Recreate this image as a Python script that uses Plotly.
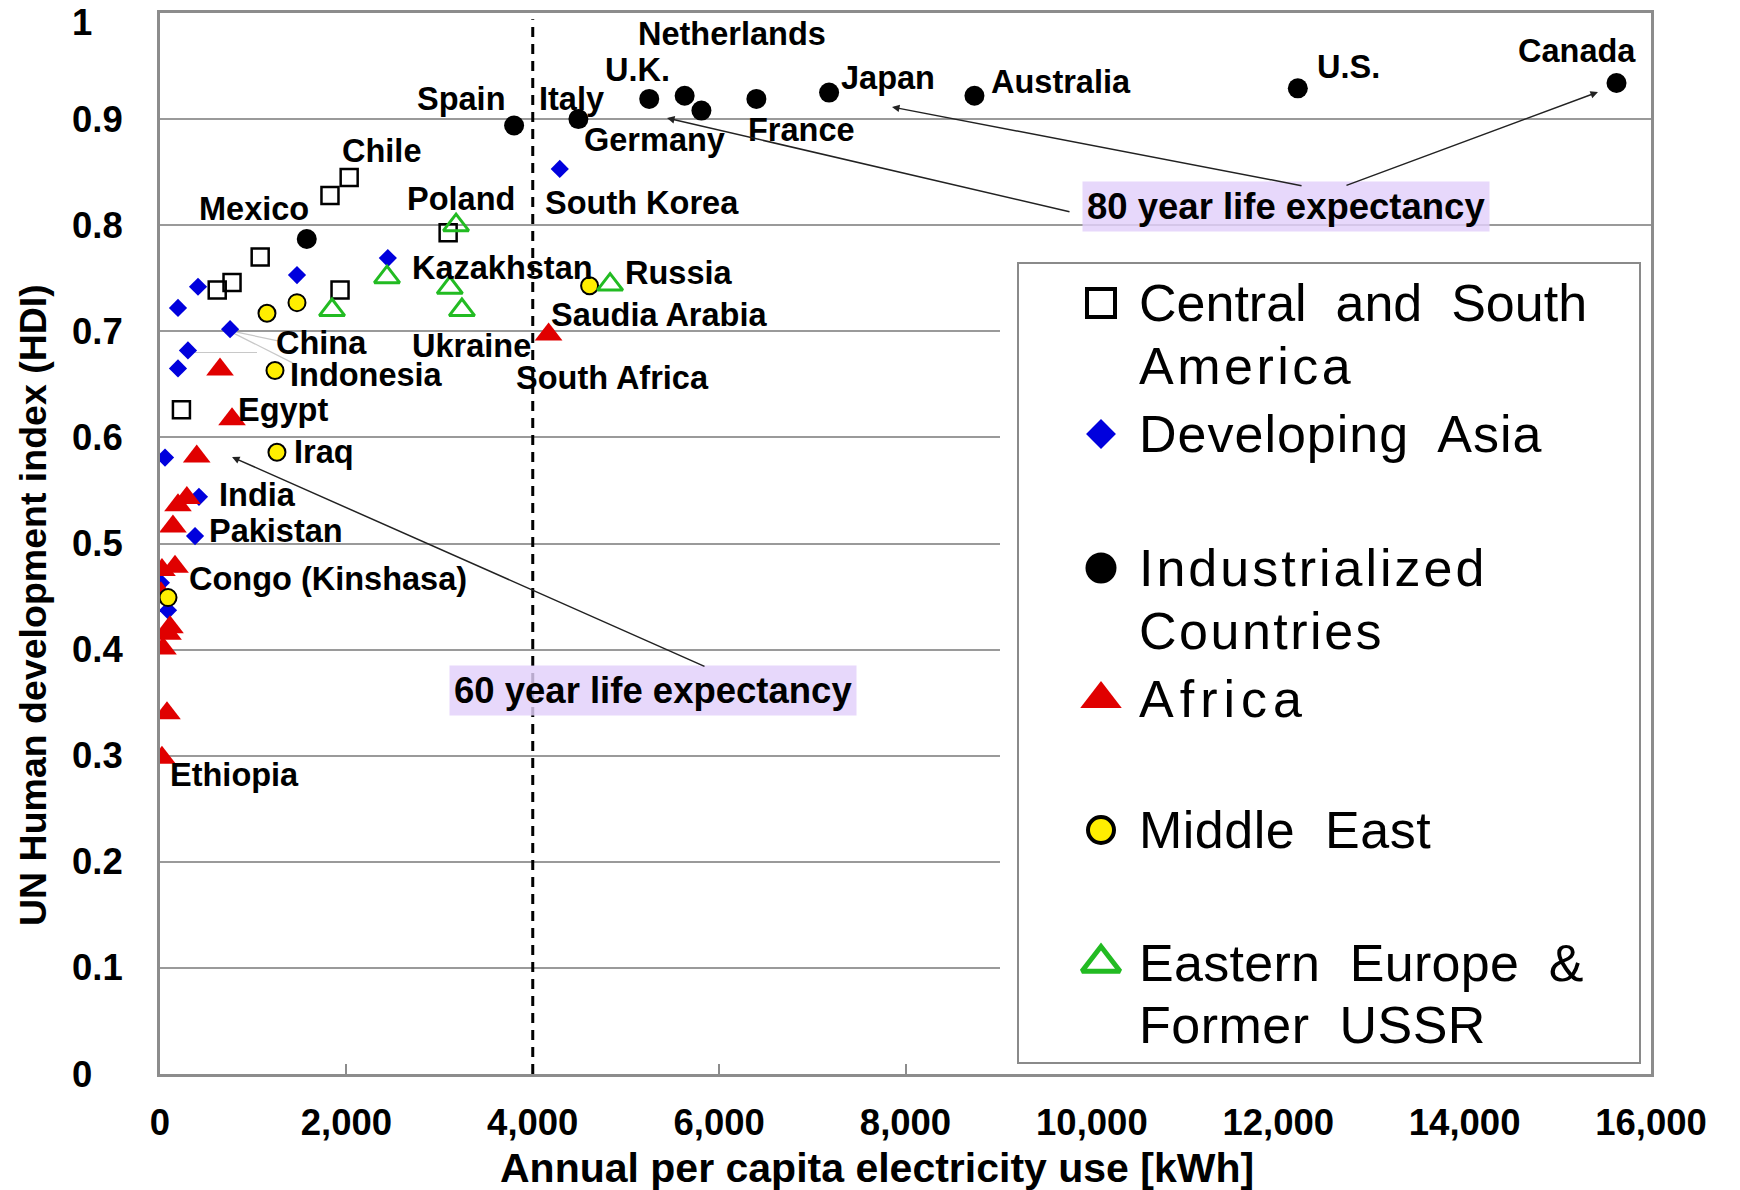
import plotly.graph_objects as go

# ---------------- data (kWh per capita, HDI) ----------------
ind_names = ["Spain", "Italy", "Mexico", "U.K.", "Netherlands", "Germany", "France",
             "Japan", "Australia", "U.S.", "Canada"]
ind_x = [3800, 4490, 1575, 5250, 5630, 5810, 6400, 7180, 8740, 12210, 15630]
ind_y = [0.894, 0.900, 0.787, 0.919, 0.922, 0.908, 0.919, 0.925, 0.922, 0.929, 0.934]

csa_x = [2030, 1824, 1075, 773, 614, 1932, 3092, 230]
csa_y = [0.845, 0.828, 0.770, 0.746, 0.739, 0.739, 0.793, 0.626]

asia_x = [4290, 2445, 1470, 408, 193, 752, 300, 193, 54, 418, 376, 86, 10]
asia_y = [0.853, 0.769, 0.753, 0.742, 0.722, 0.702, 0.682, 0.665, 0.581, 0.544, 0.507, 0.437, 0.463]

mide_x = [1148, 1470, 1234, 1255, 4610, 86]
mide_y = [0.717, 0.727, 0.663, 0.586, 0.743, 0.449]

afr_x = [4170, 773, 644, 394, 288, 193, 139, 21, 161, 10, 107, 86, 32, 75, 21]
afr_y = [0.697, 0.617, 0.664, 0.582, 0.543, 0.536, 0.516, 0.475, 0.478, 0.453, 0.421,
         0.415, 0.401, 0.340, 0.298]

eeu_x = [3177, 2436, 1846, 3110, 3240, 4830]
eeu_y = [0.800, 0.751, 0.720, 0.741, 0.720, 0.744]

# country labels: text, x, y
label_text = ["Netherlands", "U.K.", "Spain", "Italy", "Japan", "Australia", "U.S.", "Canada",
              "Germany", "France", "Chile", "Mexico", "Poland", "South Korea", "Kazakhstan",
              "Russia", "Saudia Arabia", "China", "Ukraine", "Indonesia", "South Africa",
              "Egypt", "Iraq", "India", "Pakistan", "Congo (Kinshasa)", "Ethiopia"]
label_x = [6143, 5119, 3238, 4417, 7810, 9667, 12750, 15202,
           5310, 6881, 2381, 1012, 3226, 5167, 3679,
           5571, 5357, 1738, 3345, 2214, 4857,
           1321, 1762, 1048, 1250, 1798, 798]
label_y = [0.980, 0.946, 0.919, 0.919, 0.939, 0.935, 0.949, 0.964,
           0.880, 0.890, 0.870, 0.815, 0.825, 0.821, 0.760,
           0.755, 0.715, 0.689, 0.686, 0.659, 0.656,
           0.626, 0.586, 0.546, 0.512, 0.467, 0.282]

x_ticks = [0, 2000, 4000, 6000, 8000, 10000, 12000, 14000, 16000]
y_ticks = [0, 0.1, 0.2, 0.3, 0.4, 0.5, 0.6, 0.7, 0.8, 0.9, 1]
y_tick_text = ["0", "0.1", "0.2", "0.3", "0.4", "0.5", "0.6", "0.7", "0.8", "0.9", "1"]
threshold_kwh = 4000

legend_names = [["Central and South", "America"], ["Developing Asia"],
                ["Industrialized", "Countries"], ["Africa"], ["Middle East"],
                ["Eastern Europe &", "Former USSR"]]

FONT = "Liberation Sans, Arial, Helvetica, sans-serif"

fig = go.Figure()

def add(x, y, symbol, size, color, lcolor, lwidth):
    fig.add_trace(go.Scatter(
        x=x, y=y, mode="markers", showlegend=False, hoverinfo="skip",
        marker=dict(symbol=symbol, size=size, color=color,
                    line=dict(color=lcolor, width=lwidth)),
        xaxis="x", yaxis="y"))

add(asia_x, asia_y, "diamond", 14, "#0000dd", "#0000dd", 0)
add(csa_x, csa_y, "square-open", 17, "black", "black", 2.5)
add(afr_x, afr_y, "triangle-up", 24, "#e00000", "#e00000", 0)
add(mide_x, mide_y, "circle", 17, "#ffee00", "black", 2)
add(eeu_x, eeu_y, "triangle-up-open", 22, "#22bb22", "#22bb22", 3)
add(ind_x, ind_y, "circle", 20, "black", "black", 0)

annotations = []
for t, lx, ly in zip(label_text, label_x, label_y):
    annotations.append(dict(
        x=lx, y=ly, xref="x", yref="y", text=t, showarrow=False,
        xanchor="center", yanchor="middle",
        font=dict(family=FONT, size=32.5, color="black", weight="bold")))

# y tick labels (left-aligned, as in the original)
for v, t in zip(y_ticks, y_tick_text):
    annotations.append(dict(
        x=-0.0604, y=v, xref="paper", yref="y", text=t, showarrow=False,
        xanchor="left", yanchor="middle", yshift=(-9 if v == 1 else 0),
        font=dict(family=FONT, size=36.5, color="black", weight="bold")))

# life-expectancy boxes
box_bg = "rgba(226,208,250,0.82)"
annotations.append(dict(x=12083, y=0.818, xref="x", yref="y", text="80 year life expectancy",
                        showarrow=False, bgcolor=box_bg, borderpad=4,
                        font=dict(family=FONT, size=36.5, color="black", weight="bold")))
annotations.append(dict(x=5290, y=0.361, xref="x", yref="y", text="60 year life expectancy",
                        showarrow=False, bgcolor=box_bg, borderpad=4,
                        font=dict(family=FONT, size=36.5, color="black", weight="bold")))

# arrows (head x,y ; tail x,y)
arrows = [(5441, 0.901, 9776, 0.8124),
          (7855, 0.9114, 12266, 0.837),
          (15431, 0.9255, 12716, 0.837),
          (773, 0.5815, 5859, 0.3836)]
for hx, hy, tx, ty in arrows:
    annotations.append(dict(x=hx, y=hy, ax=tx, ay=ty, xref="x", yref="y",
                            axref="x", ayref="y", text="", showarrow=True,
                            arrowhead=2, arrowsize=1, arrowwidth=1.5,
                            arrowcolor="#222222", standoff=0, startstandoff=0))

# axis titles
annotations.append(dict(x=0.481, y=-0.0886, xref="paper", yref="paper",
                        text="Annual per capita electricity use [kWh]", showarrow=False,
                        xanchor="center", yanchor="middle",
                        font=dict(family=FONT, size=41, color="black", weight="bold")))
annotations.append(dict(x=-0.0852, y=0.442, xref="paper", yref="paper",
                        text="UN Human development index (HDI)", showarrow=False,
                        textangle=-90, xanchor="center", yanchor="middle",
                        font=dict(family=FONT, size=37.5, color="black", weight="bold")))

shapes = []
# dashed vertical threshold
shapes.append(dict(type="line", xref="x", yref="y", x0=threshold_kwh, x1=threshold_kwh,
                   y0=0, y1=0.994, line=dict(color="black", width=3, dash="10px,7px"),
                   layer="above"))
# faint leader lines
for x0, y0, x1, y1 in [(783, 0.700, 1266, 0.691), (773, 0.699, 1427, 0.670),
                       (300, 0.680, 1041, 0.680)]:
    shapes.append(dict(type="line", xref="x", yref="y", x0=x0, y0=y0, x1=x1, y1=y1,
                       line=dict(color="#c8c8c8", width=1.2), layer="below"))

# ---------------- custom legend in an overlay subplot (pixel units) ----------------
L_X0, L_X1, L_YT, L_YB = 1000, 1651, 250, 1074
shapes.append(dict(type="rect", xref="x2", yref="y2", x0=L_X0, x1=L_X1 - 3, y0=L_YT, y1=L_YB - 3,
                   fillcolor="white", line=dict(width=0), layer="below"))
shapes.append(dict(type="rect", xref="x2", yref="y2", x0=1018, x1=1640, y0=263, y1=1063,
                   fillcolor="white", line=dict(color="#8a8a8a", width=2), layer="below"))

leg_marker_y = [303, 434, 568, 699, 830, 963]
leg_line_y = [[303, 366], [434], [568, 631], [699], [830], [963, 1025]]
leg_spacing = [[0, 3.5], [1], [3, 2.5], [6], [0.5], [0.3, 0.5]]
leg_style = [("square-open", 28, "black", "black", 4),
             ("diamond", 23, "#0000dd", "#0000dd", 0),
             ("circle", 31, "black", "black", 0),
             ("triangle-up", 36, "#e00000", "#e00000", 0),
             ("circle", 26, "#ffee00", "black", 4),
             ("triangle-up-open", 33, "#22bb22", "#22bb22", 5)]
for (sym, sz, col, lc, lw), my in zip(leg_style, leg_marker_y):
    fig.add_trace(go.Scatter(x=[1101], y=[my], mode="markers", showlegend=False,
                             hoverinfo="skip", xaxis="x2", yaxis="y2",
                             marker=dict(symbol=sym, size=sz, color=col,
                                         line=dict(color=lc, width=lw))))
NB = "\u00a0"
for lines, ys, sps in zip(legend_names, leg_line_y, leg_spacing):
    for txt, yy, sp in zip(lines, ys, sps):
        annotations.append(dict(
            x=1137, y=yy, xref="x2", yref="y2",
            text='<span style="letter-spacing:%spx">%s</span>' % (sp, txt.replace(" ", NB + " ")),
            showarrow=False, xanchor="left", yanchor="middle",
            font=dict(family=FONT, size=52, color="black")))

fig.update_layout(
    width=1740, height=1190, autosize=False,
    margin=dict(l=160, r=89, t=13, b=116, pad=0),
    paper_bgcolor="white", plot_bgcolor="white",
    showlegend=False,
    xaxis=dict(range=[0, 16000], tickvals=x_ticks, tickformat=",", showgrid=False,
               zeroline=False, showline=True, mirror=True, linecolor="#8c8c8c",
               linewidth=3, ticks="inside", ticklen=10, tickwidth=1.5,
               tickcolor="#8c8c8c", ticklabelstandoff=14, automargin=False,
               ticklabeloverflow="allow",
               tickfont=dict(family=FONT, size=36.5, color="black", weight="bold")),
    yaxis=dict(range=[0, 1], tickvals=y_ticks, showticklabels=False, showgrid=True,
               gridcolor="#9a9a9a", gridwidth=1.5, zeroline=False, showline=True,
               mirror=True, linecolor="#8c8c8c", linewidth=3, ticks="",
               automargin=False),
    xaxis2=dict(domain=[(L_X0 - 160) / 1491, 1.0], range=[L_X0, L_X1],
                anchor="y2", visible=False, fixedrange=True, automargin=False),
    yaxis2=dict(domain=[0.0, (1074 - L_YT) / 1061], range=[L_YB, L_YT],
                anchor="x2", visible=False, fixedrange=True, automargin=False),
    annotations=annotations,
    shapes=shapes,
)

fig.write_html("out.html",
               config={"displayModeBar": False},
               post_script="document.body.style.margin='0px';"
                           "document.body.style.overflow='hidden';")
